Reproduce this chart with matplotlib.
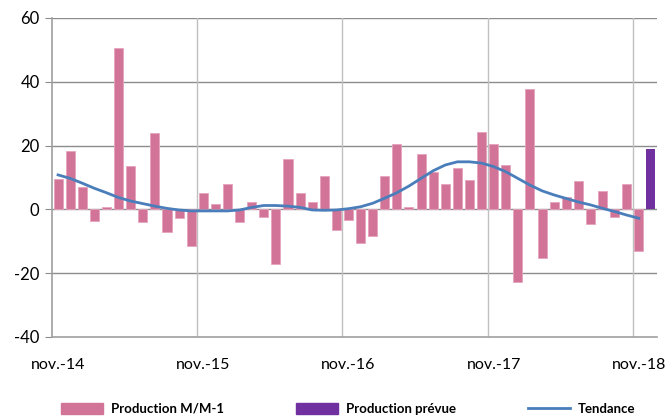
import matplotlib
matplotlib.use('Agg')
import matplotlib.pyplot as plt
from matplotlib.patches import Patch
from matplotlib.lines import Line2D

font = 'Lato'
plt.rcParams['font.family'] = [font, 'DejaVu Sans']

# months from nov.-14 to dec.-18
mois = ['janv.', 'févr.', 'mars', 'avr.', 'mai', 'juin', 'juil.', 'août', 'sept.', 'oct.', 'nov.', 'déc.']
months = []
for i in range(50):
    m = (10 + i) % 12
    y = 14 + (10 + i) // 12
    months.append('%s-%d' % (mois[m], y))

# production M/M-1 (pink bars)
production = [9.6, 18.3, 7.0, -3.7, 0.6, 50.7, 13.6, -4.1, 24.0, -7.0,
              -2.8, -11.4, 5.0, 1.6, 8.1, -4.1, 2.4, -2.3, -17.0, 15.7,
              5.0, 2.3, 10.6, -6.6, -3.2, -10.6, -8.4, 10.6, 20.5, 0.6,
              17.5, 11.8, 8.1, 13.1, 9.2, 24.4, 20.5, 14.0, -22.7, 37.7,
              -15.3, 2.3, 4.0, 8.8, -4.6, 5.8, -2.4, 8.0, -13.1]

# forecast for the last month (purple bar)
prevue = 19.0

# trend line
tendance = [10.8, 9.7, 8.2, 6.6, 5.2, 3.7, 2.6, 1.8, 1.0, 0.3,
            -0.2, -0.5, -0.5, -0.5, -0.5, -0.2, 0.6, 1.2, 1.2, 1.0,
            0.6, -0.2, -0.3, -0.2, 0.2, 0.8, 1.9, 3.5, 5.2, 7.3,
            9.7, 12.1, 13.9, 14.9, 14.9, 14.5, 13.4, 11.8, 9.7, 7.6,
            5.8, 4.5, 3.4, 2.3, 1.4, 0.3, -0.7, -1.8, -2.8]

pink = '#D27498'
purple = '#7030A0'
blue = '#4A7EBB'

fig = plt.figure(figsize=(6.67, 4.18), dpi=100)
ax = fig.add_axes([0.078, 0.194, 0.907, 0.763])

x = list(range(len(production)))
ax.bar(x, production, width=0.75, color=pink, edgecolor='#E6A3BD', linewidth=0.6, zorder=3)
ax.bar([len(production)], [prevue], width=0.75, color=purple, zorder=3)
ax.plot(x, tendance, color=blue, linewidth=2, zorder=4)

ax.set_xlim(-0.5, len(months) - 0.5)
ax.set_ylim(-40, 60)
ax.set_yticks([-40, -20, 0, 20, 40, 60])
ax.set_yticklabels(['-40', '-20', '0', '20', '40', '60'], fontsize=12)

# horizontal gridlines + zero line
for v in [-20, 0, 20, 40, 60]:
    ax.axhline(v, color='#8C8C8C', linewidth=1, zorder=1)

# vertical gridlines between years
for i in range(12, len(months), 12):
    ax.axvline(i - 0.5, color='#C0C0C0', linewidth=1, zorder=1)

ax.set_xticks(range(0, len(months), 12))
ax.set_xticklabels([months[i] for i in range(0, len(months), 12)], fontsize=11.5)
ax.tick_params(axis='x', length=0, pad=15)
ax.tick_params(axis='y', length=5, color='#8C8C8C', pad=4)

for s in ['top', 'right']:
    ax.spines[s].set_visible(False)
ax.spines['left'].set_color('#A0A0A0')
ax.spines['bottom'].set_color('#A0A0A0')
ax.spines['left'].set_linewidth(1.2)
ax.spines['bottom'].set_linewidth(1.2)

handles = [Patch(color=pink), Patch(color=purple), Line2D([0], [0], color=blue, lw=2)]
labels = ['Production M/M-1', 'Production prévue', 'Tendance']
fig.legend(handles, labels, loc='center', bbox_to_anchor=(0.522, 0.022), ncol=3,
           frameon=False, prop={'weight': 'bold', 'size': 9.5},
           handlelength=3.2, handleheight=0.9, columnspacing=5.5, handletextpad=0.55)

fig.savefig('out.png', dpi=100)
